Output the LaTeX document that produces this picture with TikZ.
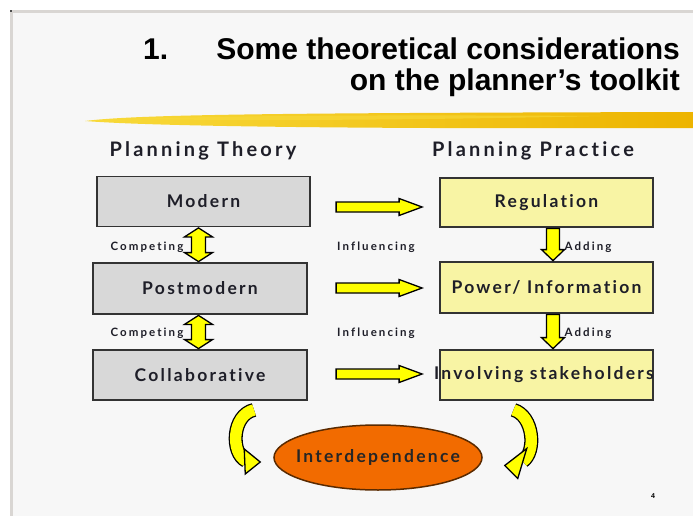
\documentclass[tikz,border=0pt]{standalone}
\usepackage{fontspec}
\setmainfont{Liberation Sans}
\newfontfamily\headfont[LetterSpace=16,Ligatures={NoCommon,NoContextual}]{Lato}
\newfontfamily\boxfont[LetterSpace=13,Ligatures={NoCommon,NoContextual}]{Lato}
\newfontfamily\smallfont[LetterSpace=18,Ligatures={NoCommon,NoContextual}]{Lato}
\usetikzlibrary{calc,shapes.geometric}
\definecolor{slidebg}{HTML}{F7F7F7}
\definecolor{edgegray}{HTML}{D9D6D3}
\definecolor{boxgray}{HTML}{D8D8D8}
\definecolor{boxyellow}{HTML}{F8F4A4}
\definecolor{boxline}{HTML}{333333}
\definecolor{arrowyellow}{HTML}{FFFF00}
\definecolor{txt}{HTML}{1E1E28}
\definecolor{orangefill}{HTML}{F26B00}
\definecolor{orangeline}{HTML}{5A2A00}
\definecolor{brushA}{HTML}{F8DA3A}
\definecolor{brushB}{HTML}{EDB400}
\tikzset{
  boxtext/.style={font=\boxfont\bfseries\fontsize{17.5}{20}\selectfont,text=txt},
  theorybox/.style={boxtext,draw=boxline,line width=1.8pt,fill=boxgray,minimum width=213pt,minimum height=49pt,inner sep=0pt},
  practicebox/.style={theorybox,fill=boxyellow},
  blockarrow/.style={draw=black,line width=1.3pt,fill=arrowyellow,line join=miter},
  heading/.style={font=\headfont\bfseries\fontsize{20}{22}\selectfont,text=txt,inner sep=0pt},
  smalllab/.style={font=\smallfont\bfseries\fontsize{11.5}{12}\selectfont,text=txt,inner sep=0pt},
  titletext/.style={font=\bfseries\fontsize{30}{36}\selectfont,text=black,inner sep=0pt},
  curveout/.style={line width=14pt,black},
  curvein/.style={line width=11.4pt,arrowyellow}
}
\newcommand\rightblock[2]{%
  \draw[blockarrow] let \p1=(#1), \p2=(#2) in
   (\x1,\y1+5pt) -- (\x2-23pt,\y1+5pt) -- (\x2-23pt,\y1+8.5pt) -- (\x2,\y1)
   -- (\x2-23pt,\y1-8.5pt) -- (\x2-23pt,\y1-5pt) -- (\x1,\y1-5pt) -- cycle;}
\newcommand\downblock[2]{%
  \draw[blockarrow] let \p1=(#1), \p2=(#2) in
   (\x1-6.5pt,\y1) -- (\x1-6.5pt,\y2+11pt) -- (\x1-11.5pt,\y2+11pt) -- (\x1,\y2)
   -- (\x1+11.5pt,\y2+11pt) -- (\x1+6.5pt,\y2+11pt) -- (\x1+6.5pt,\y1) -- cycle;}
\newcommand\updownblock[2]{%
  \draw[blockarrow] let \p1=(#1), \p2=(#2) in
   (\x1,\y1) -- (\x1-14pt,\y1-9pt) -- (\x1-7pt,\y1-9pt) -- (\x1-7pt,\y2+9pt) -- (\x1-14pt,\y2+9pt)
   -- (\x1,\y2) -- (\x1+14pt,\y2+9pt) -- (\x1+7pt,\y2+9pt) -- (\x1+7pt,\y1-9pt) -- (\x1+14pt,\y1-9pt) -- cycle;}
\begin{document}
\begin{tikzpicture}[x=1pt,y=-1pt]
\useasboundingbox (0,0) rectangle (693,516);
\fill[white] (0,0) rectangle (693,516);
\fill[slidebg] (12,12) rectangle (693,516);
\fill[edgegray] (10,10.5) rectangle (693,13);
\fill[edgegray] (10,10.5) rectangle (13,516);
\fill[black!70] (10,10) rectangle (12,12);
% title
\node[titletext,anchor=base west] (num) at (143,60) {1.};
\node[titletext,anchor=base east] (t1) at (680,60) {Some theoretical considerations};
\node[titletext,anchor=base east] (t2) at (680,91) {on the planner’s toolkit};
% brush stroke
\shade[left color=brushA,right color=brushB]
  (85,121) .. controls (140,114) and (300,113) .. (693,112) -- (693,128)
  .. controls (400,129) and (160,127) .. (85,121) -- cycle;
\fill[brushA,opacity=0.6] (130,119) .. controls (250,115) and (420,115) .. (600,116)
  .. controls (420,120) and (250,121) .. (130,119) -- cycle;
% headings
\node[heading] (ht) at (203,151) {Planning Theory};
\node[heading] (hp) at (533,151) {Planning Practice};
% boxes
\node[theorybox,minimum height=50pt] (mod) at (203.5,201.5) {Modern};
\node[theorybox,minimum width=214pt,minimum height=51pt] (post) at (200,288.5) {Postmodern};
\node[theorybox,minimum width=214pt,minimum height=50pt] (col) at (200,375) {Collaborative};
\node[practicebox] (reg) at (546.5,202.5) {Regulation};
\node[practicebox,minimum height=51pt] (pow) at (546.5,287.5) {Power/ Information};
\node[practicebox,minimum height=50pt] (inv) at (546.5,375) {};
\node[boxtext,inner sep=0pt] (invt) at (544,375) {Involving stakeholders};
% ellipse
\node[ellipse,draw=orangeline,line width=1.5pt,fill=orangefill,minimum width=208pt,minimum height=65pt,
  inner sep=0pt] (int) at (378,457.5) {};
\node[boxtext,text=black!85,inner sep=0pt] (intt) at (int.center) {Interdependence};
% competing arrows
\updownblock{$(mod.south)+(-5,0.5)$}{$(post.north)+(-1.5,-0.5)$}
\updownblock{$(post.south)+(-1.5,0.5)$}{$(col.north)+(-1.5,-0.5)$}
\node[smalllab] (c1) at (147,247) {Competing};
\node[smalllab] (c2) at (147,333) {Competing};
% influencing arrows
\rightblock{$(reg.west)+(-103,4.5)$}{$(reg.west)+(-17,4.5)$}
\rightblock{$(pow.west)+(-103,0.5)$}{$(pow.west)+(-17,0.5)$}
\rightblock{$(inv.west)+(-103,-1)$}{$(inv.west)+(-17,-1)$}
\node[smalllab] (i1) at (376,247) {Influencing};
\node[smalllab] (i2) at (376,333) {Influencing};
% adding arrows
\downblock{$(reg.south)+(6.5,0.5)$}{$(pow.north)+(6.5,-0.5)$}
\downblock{$(pow.south)+(6.5,0.5)$}{$(inv.north)+(6.5,-0.5)$}
\node[smalllab] (a1) at (588,247) {Adding};
\node[smalllab] (a2) at (588,333) {Adding};
% curved arrows
\coordinate (lcs) at ($(col.south)+(54,9)$);
\coordinate (lce) at ($(int.west)+(-27,3.5)$);
\coordinate (rcs) at ($(inv.south)+(-33,9)$);
\coordinate (rce) at ($(int.east)+(40,4)$);
\draw[curveout] (lcs) .. controls +(-22,5) and +(-16,-8) .. (lce);
\draw[curvein] (lcs) .. controls +(-22,5) and +(-16,-8) .. (lce);
\draw[blockarrow] ($(lce)+(-2,-12)$) -- ($(int.west)+(-13,4.5)$) -- ($(lce)+(-1,13)$) -- cycle;
\draw[curveout] (rcs) .. controls +(20,6) and +(14,-10) .. (rce);
\draw[curvein] (rcs) .. controls +(20,6) and +(14,-10) .. (rce);
\draw[blockarrow] ($(rce)+(4,-13)$) -- ($(int.east)+(22,8)$) -- ($(rce)+(-5,17)$) -- cycle;
% page number
\node[font=\bfseries\fontsize{7}{8}\selectfont,inner sep=0pt] (pg) at (653,496) {4};
\end{tikzpicture}
\end{document}
